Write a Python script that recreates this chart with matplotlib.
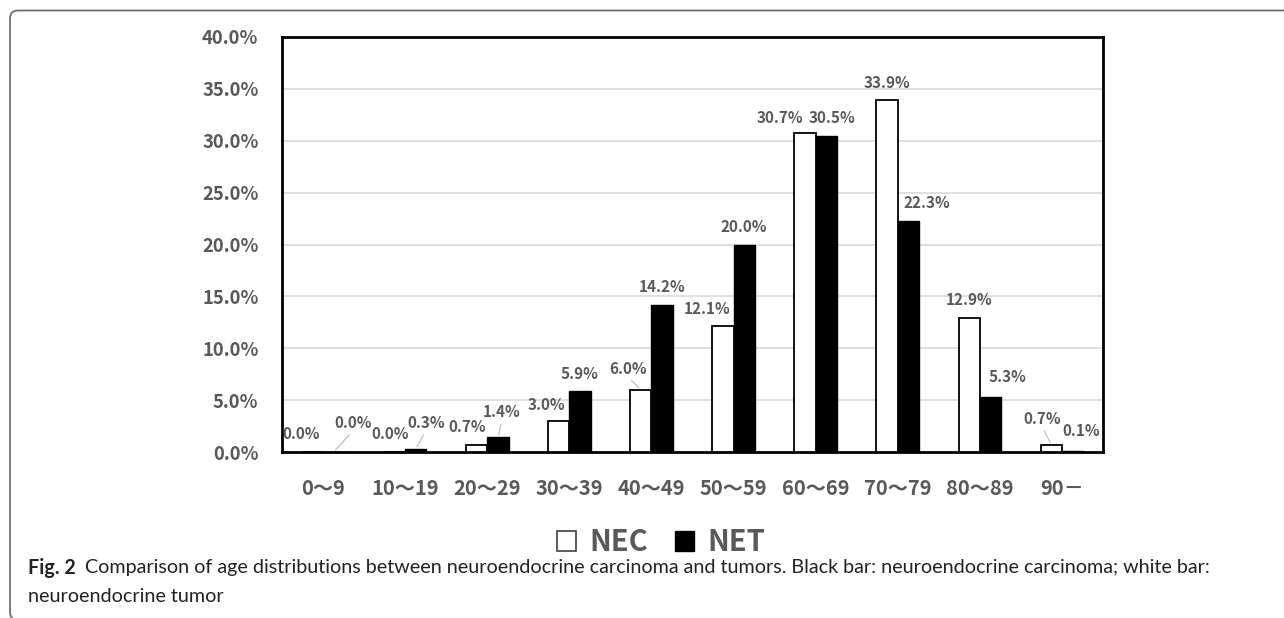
import numpy as np
import matplotlib
matplotlib.use("Agg")
import matplotlib.pyplot as plt
from matplotlib.patches import FancyBboxPatch, Patch
from matplotlib.transforms import IdentityTransform

# Age groups and share of patients in each (percent)
age_groups = ["0～9", "10～19", "20～29", "30～39", "40～49",
              "50～59", "60～69", "70～79", "80～89", "90－"]
nec_pct = [0.0, 0.0, 0.7, 3.0, 6.0, 12.1, 30.7, 33.9, 12.9, 0.7]
net_pct = [0.0, 0.3, 1.4, 5.9, 14.2, 20.0, 30.5, 22.3, 5.3, 0.1]
y_ticks = [0, 5, 10, 15, 20, 25, 30, 35, 40]

# Label offsets from bar top (pixels, dx, dy) and whether a leader line is drawn
nec_label_off = [(-11, 18), (-4, 18), (-9, 18), (-12, 16), (-13, 21),
                 (-16, 17.5), (-25, 15), (0, 17.5), (0, 18), (-9, 26)]
nec_leader = [False, False, False, False, True, False, False, False, False, True]
net_label_off = [(19, 29), (10, 26), (4, 25), (-1, 17), (0, 18),
                 (0, 17), (6, 17.5), (18, 17.5), (17, 20), (9, 20)]
net_leader = [True, True, True, False, False, False, False, False, False, False]

W, H = 1284, 618
fig = plt.figure(figsize=(W / 100, H / 100), dpi=100)
fig.patch.set_facecolor("white")

# Outer rounded frame of the figure panel
frame = FancyBboxPatch((10, -2), 1320, 610 - 0.5,
                       boxstyle="round,pad=0,rounding_size=8",
                       transform=IdentityTransform(), fill=False,
                       edgecolor="#707070", linewidth=1.3, zorder=0)
fig.patches.append(frame)

ax_left, ax_right, ax_top, ax_bottom = 282, 1103, 37, 452
ax = fig.add_axes([ax_left / W, 1 - ax_bottom / H,
                   (ax_right - ax_left) / W, (ax_bottom - ax_top) / H])

text_col = "#595959"
font_main = ["Noto Sans CJK JP", "DejaVu Sans"]

x = np.arange(len(age_groups))
bw = 0.26
bars_nec = ax.bar(x - bw / 2, nec_pct, bw, color="white", edgecolor="black",
                  linewidth=1.3, zorder=3, label="NEC")
bars_net = ax.bar(x + bw / 2, net_pct, bw, color="black", edgecolor="black",
                  linewidth=1.0, zorder=3, label="NET")

ax.set_xlim(-0.5, len(age_groups) - 0.5)
ax.set_ylim(0, 40)
ax.set_yticks(y_ticks)
ax.set_yticklabels([f"{v:.1f}%" for v in y_ticks], family=font_main,
                   fontweight="bold", fontsize=13.3, color=text_col)
ax.set_xticks(x)
ax.set_xticklabels(age_groups, family=font_main, fontweight="bold",
                   fontsize=14.5, color=text_col)
ax.tick_params(axis="y", length=0, pad=17)
ax.tick_params(axis="x", length=0, pad=19)

for v in y_ticks[1:-1]:
    ax.axhline(v, color="#d9d9d9", linewidth=1.2, zorder=1)
for s in ax.spines.values():
    s.set_linewidth(2)
    s.set_color("black")


def label_bars(bars, values, offsets, leaders):
    for b, v, (dx, dy), lead in zip(bars, values, offsets, leaders):
        xc = b.get_x() + b.get_width() / 2
        kw = {}
        if lead:
            kw["arrowprops"] = dict(arrowstyle="-", color="#bfbfbf", lw=0.9,
                                    shrinkA=1, shrinkB=2, relpos=(0.5, 0.0))
        ax.annotate(f"{v:.1f}%", xy=(xc, v), xytext=(dx, dy),
                    textcoords="offset pixels", ha="center", va="center",
                    family=font_main, fontweight="bold", fontsize=11,
                    color=text_col, zorder=5, annotation_clip=False, **kw)


label_bars(bars_nec, nec_pct, nec_label_off, nec_leader)
label_bars(bars_net, net_pct, net_label_off, net_leader)

# Legend
handles = [Patch(facecolor="white", edgecolor="#404040", linewidth=1.2),
           Patch(facecolor="black", edgecolor="black")]
leg = fig.legend(handles, ["NEC", "NET"], loc="center",
                 bbox_to_anchor=(661 / W, 1 - 542 / H), ncol=2, frameon=False,
                 handlelength=0.68, handleheight=0.68, handletextpad=0.45,
                 columnspacing=0.9,
                 prop=dict(family=font_main, weight="bold", size=21))
for t in leg.get_texts():
    t.set_color(text_col)

# Caption
cap_font = ["Lato", "DejaVu Sans"]
cap_size = 14.2
fig_label = fig.text(28 / W, 1 - 568 / H, "Fig. 2", family=cap_font,
                     fontweight="bold", fontsize=cap_size, color="#222222",
                     va="center", ha="left")
fig.canvas.draw()
bb = fig_label.get_window_extent()
fig.text((bb.x1 + 9) / W, 1 - 568 / H,
         "Comparison of age distributions between neuroendocrine carcinoma and tumors. "
         "Black bar: neuroendocrine carcinoma; white bar:",
         family=cap_font, fontsize=cap_size, color="#222222", va="center", ha="left")
fig.text(28 / W, 1 - 597 / H, "neuroendocrine tumor", family=cap_font,
         fontsize=cap_size, color="#222222", va="center", ha="left")

fig.savefig("out.png", dpi=100, facecolor="white")
